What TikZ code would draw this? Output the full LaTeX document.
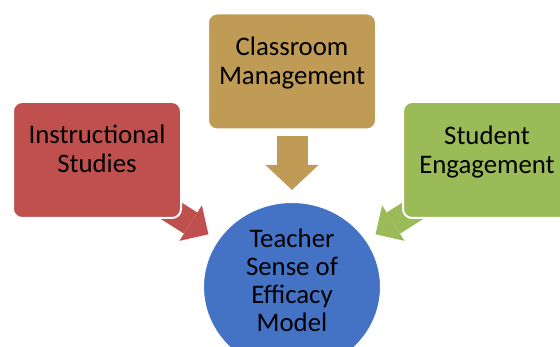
\documentclass[tikz,border=0pt]{standalone}
\usepackage{fontspec}
\setmainfont{Carlito}
\usetikzlibrary{shapes.geometric,arrows.meta,backgrounds}
\definecolor{instrred}{HTML}{C0504D}
\definecolor{classgold}{HTML}{BF9B55}
\definecolor{engagegreen}{HTML}{9BBB59}
\definecolor{coreblue}{HTML}{4472C4}

\begin{document}
\begin{tikzpicture}[x=1pt, y=-1pt,
    box/.style={draw=white, line width=2pt, rounded corners=9pt, minimum width=168pt, minimum height=116pt, inner sep=0pt},
    lbl/.style={align=center, inner sep=0pt, font=\fontsize{26.8}{29}\selectfont},
    bigarrow/.style={line width=31pt, -{Triangle[length=25pt, width=53pt, line width=0pt]}},
    smallarrow/.style={line width=25pt, -{Triangle[length=21pt, width=42pt, line width=0pt]}}]
    \useasboundingbox (0,0) rectangle (560,347);

    % Centre
    \node[ellipse, draw=white, line width=2pt, fill=coreblue, minimum width=178pt, minimum height=170pt] (core) at (292,287) {};
    \node[lbl, font=\fontsize{26.8}{28}\selectfont] (coretext) at ([yshift=7pt]core.center) {Teacher\\Sense of\\Efficacy\\Model};

    % Boxes
    \node[box, fill=instrred] (instr) at (97,160) {};
    \node[lbl] (instrtext) at ([yshift=11.5pt]instr.center) {Instructional\\Studies};

    \node[box, fill=classgold] (cls) at (292,71.5) {};
    \node[lbl] (clstext) at ([yshift=8.5pt]cls.center) {Classroom\\Management};

    \node[box, fill=engagegreen] (eng) at (487,160) {};
    \node[lbl] (engtext) at ([yshift=8pt]eng.center) {Student\\Engagement};

    % Arrows
    \begin{scope}[on background layer]
    \draw[bigarrow, classgold, shorten >=11pt] ([yshift=-6pt]cls.south) -- (core);
    \draw[smallarrow, instrred, shorten >=10pt] ([shift={(-20,-14)}]instr.south east) -- (core);
    \draw[smallarrow, engagegreen, shorten >=10pt] ([shift={(20,-14)}]eng.south west) -- (core);
    \end{scope}
\end{tikzpicture}
\end{document}
